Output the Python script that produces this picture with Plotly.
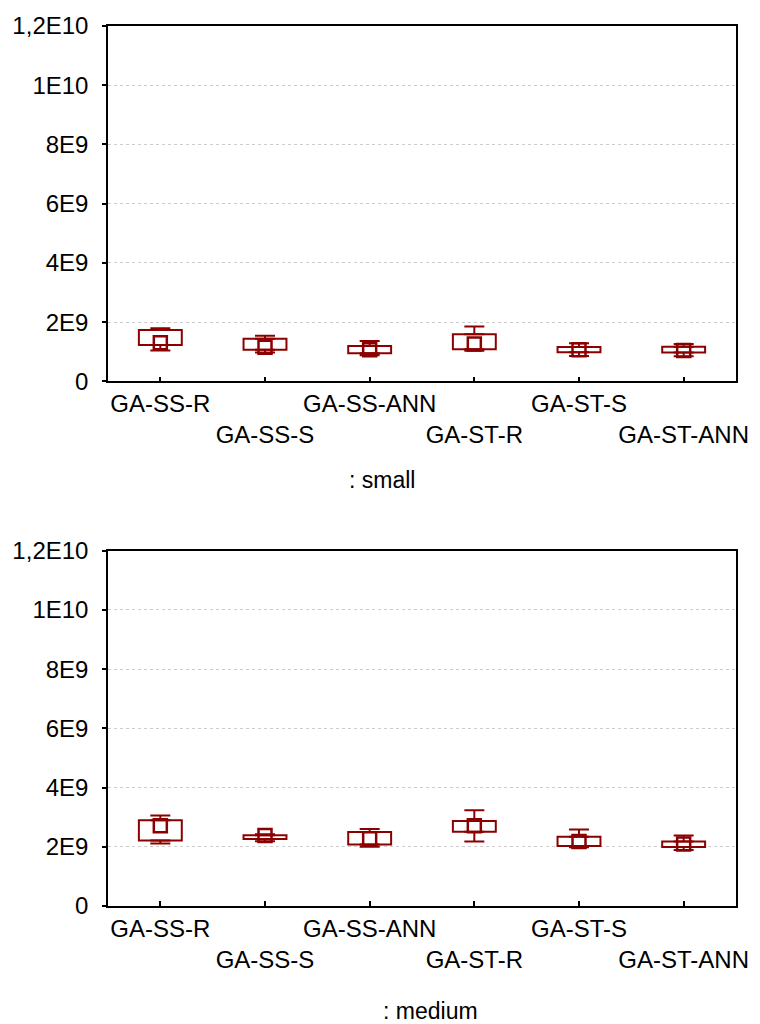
import plotly.graph_objects as go

# Algorithm variants shown on the category axis
categories = ["GA-SS-R", "GA-SS-S", "GA-SS-ANN", "GA-ST-R", "GA-ST-S", "GA-ST-ANN"]

# Box-plot statistics for the "small" instances (min, Q1, median, Q3, max)
small_min = [1.04e9, 0.97e9, 0.88e9, 1.03e9, 0.86e9, 0.85e9]
small_q1 = [1.23e9, 1.07e9, 0.95e9, 1.08e9, 0.98e9, 0.97e9]
small_med = [1.30e9, 1.15e9, 1.07e9, 1.26e9, 1.07e9, 1.04e9]
small_q3 = [1.73e9, 1.44e9, 1.19e9, 1.59e9, 1.16e9, 1.17e9]
small_max = [1.79e9, 1.54e9, 1.36e9, 1.85e9, 1.29e9, 1.26e9]

# Box-plot statistics for the "medium" instances
medium_min = [2.11e9, 2.19e9, 2.00e9, 2.18e9, 1.98e9, 1.89e9]
medium_q1 = [2.21e9, 2.26e9, 2.08e9, 2.51e9, 2.03e9, 1.99e9]
medium_med = [2.71e9, 2.38e9, 2.27e9, 2.71e9, 2.18e9, 2.09e9]
medium_q3 = [2.90e9, 2.39e9, 2.50e9, 2.87e9, 2.34e9, 2.18e9]
medium_max = [3.06e9, 2.42e9, 2.60e9, 3.23e9, 2.58e9, 2.38e9]

# Value axis ticks
y_tickvals = [0, 2e9, 4e9, 6e9, 8e9, 1e10, 1.2e10]
y_ticktext = ["0", "2E9", "4E9", "6E9", "8E9", "1E10", "1,2E10"]

panel_titles = [": small", ": medium"]

RED = "#8b0000"
FONT = "Liberation Sans, Arial, sans-serif"
xs = list(range(len(categories)))
# alternate tick labels between two rows
x_ticktext = [c if i % 2 == 0 else "<br>" + c for i, c in enumerate(categories)]

fig = go.Figure()


def add_panel(lo, q1, med, q3, hi, xa, ya):
    # box: Q1..Q3
    fig.add_trace(go.Bar(
        x=xs, y=[b - a for a, b in zip(q1, q3)], base=q1, width=0.41,
        marker=dict(color="rgba(0,0,0,0)", line=dict(color=RED, width=2)),
        xaxis=xa, yaxis=ya, showlegend=False, hoverinfo="skip",
    ))
    # upper whisker: Q3..max
    fig.add_trace(go.Scatter(
        x=xs, y=q3, mode="markers",
        marker=dict(size=1, color="rgba(0,0,0,0)"),
        error_y=dict(type="data", symmetric=False,
                     array=[h - b for b, h in zip(q3, hi)],
                     arrayminus=[0] * len(xs),
                     color=RED, thickness=2, width=10),
        xaxis=xa, yaxis=ya, showlegend=False, hoverinfo="skip",
    ))
    # lower whisker: min..Q1
    fig.add_trace(go.Scatter(
        x=xs, y=q1, mode="markers",
        marker=dict(size=1, color="rgba(0,0,0,0)"),
        error_y=dict(type="data", symmetric=False,
                     array=[0] * len(xs),
                     arrayminus=[a - l for l, a in zip(lo, q1)],
                     color=RED, thickness=2, width=10),
        xaxis=xa, yaxis=ya, showlegend=False, hoverinfo="skip",
    ))
    # median marker
    fig.add_trace(go.Scatter(
        x=xs, y=med, mode="markers",
        marker=dict(symbol="square-open", size=13, color=RED,
                    line=dict(color=RED, width=2.5)),
        xaxis=xa, yaxis=ya, showlegend=False,
    ))


add_panel(small_min, small_q1, small_med, small_q3, small_max, "x", "y")
add_panel(medium_min, medium_q1, medium_med, medium_q3, medium_max, "x2", "y2")

xaxis_style = dict(
    range=[-0.5, 5.5], tickmode="array", tickvals=xs, ticktext=x_ticktext,
    tickangle=0,
    ticks="inside", ticklen=5, tickwidth=1.5, tickcolor="black",
    showline=True, mirror=True, linecolor="black", linewidth=1.5,
    showgrid=False, zeroline=False,
    tickfont=dict(family=FONT, size=24, color="black"),
)
yaxis_style = dict(
    range=[0, 1.2e10], tickmode="array", tickvals=y_tickvals, ticktext=y_ticktext,
    ticks="outside", ticklen=4, tickwidth=1.5, tickcolor="black",
    showline=True, mirror=True, linecolor="black", linewidth=1.5,
    showgrid=True, gridcolor="#cccccc", gridwidth=1, griddash="dot",
    zeroline=False, ticklabelstandoff=9,
    tickfont=dict(family=FONT, size=24, color="black"),
)

fig.update_layout(
    width=760, height=1024,
    margin=dict(l=103, r=21, t=17, b=118),
    paper_bgcolor="white", plot_bgcolor="white",
    barmode="overlay",
    xaxis=dict(domain=[0, 1], anchor="y", **xaxis_style),
    yaxis=dict(domain=[0.5962, 1], anchor="x", **yaxis_style),
    xaxis2=dict(domain=[0, 1], anchor="y2", **xaxis_style),
    yaxis2=dict(domain=[0, 0.4038], anchor="x2", **yaxis_style),
    annotations=[
        dict(text=panel_titles[0], x=0.437, y=0.4838, xref="paper", yref="paper",
             xanchor="center", yanchor="middle", showarrow=False,
             font=dict(family=FONT, size=23, color="black")),
        dict(text=panel_titles[1], x=0.514, y=-0.1197, xref="paper", yref="paper",
             xanchor="center", yanchor="middle", showarrow=False,
             font=dict(family=FONT, size=23, color="black")),
    ],
)

fig.write_html("out.html")
